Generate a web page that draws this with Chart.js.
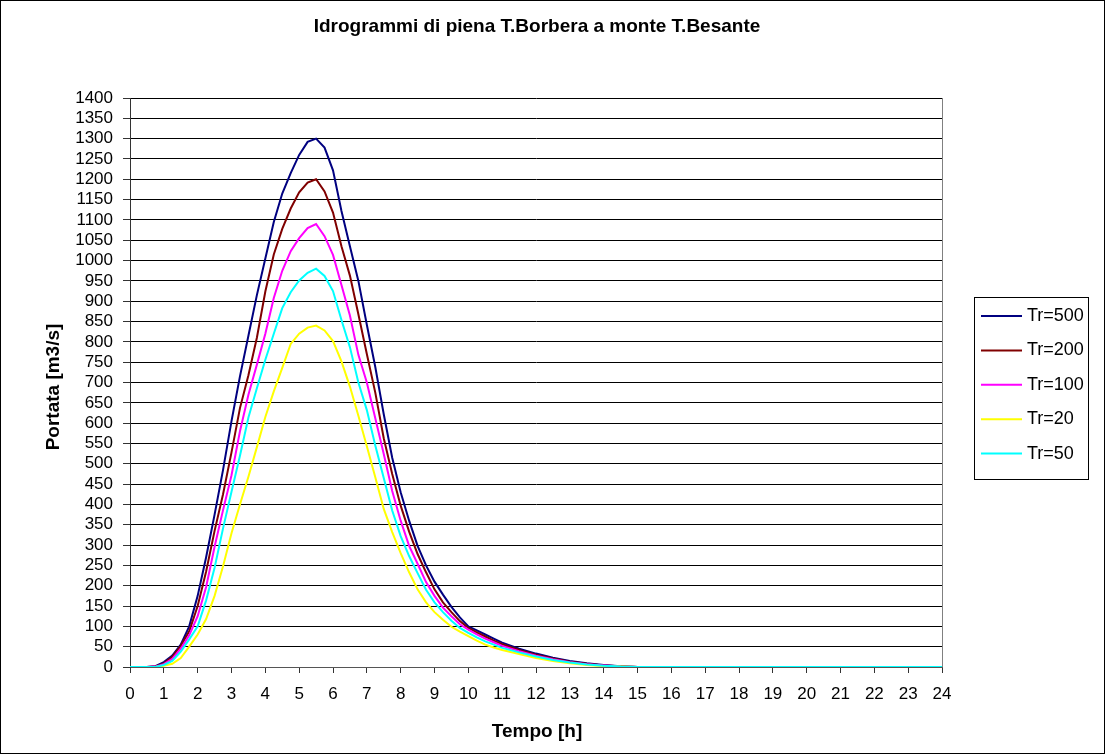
<!DOCTYPE html>
<html>
<head>
<meta charset="utf-8">
<script src="https://cdn.jsdelivr.net/npm/chart.js@4"></script>
<style>
  html, body { margin: 0; padding: 0; background: #fff; }
  #wrap { width: 1105px; height: 754px; }
</style>
</head>
<body>
<div id="wrap"><canvas id="idroChart" width="1105" height="754"></canvas></div>
<script>
// tempo [h]
const tempo = [0, 0.25, 0.5, 0.75, 1, 1.25, 1.5, 1.75, 2, 2.25, 2.5, 2.75, 3, 3.25, 3.5, 3.75,
  4, 4.25, 4.5, 4.75, 5, 5.25, 5.5, 5.75, 6, 6.25, 6.5, 6.75, 7, 7.25, 7.5, 7.75,
  8, 8.25, 8.5, 8.75, 9, 9.25, 9.5, 9.75, 10, 10.25, 10.5, 10.75, 11,
  11.5, 12, 12.5, 13, 13.5, 14, 14.5, 15,
  16, 17, 18, 19, 20, 21, 22, 23, 24];

// portate [m3/s]
const tr500 = [0, 0, 0, 2, 12, 28, 55, 100, 175, 270, 375, 485, 605, 715, 815, 915,
  1005, 1095, 1165, 1215, 1260, 1292, 1300, 1278, 1222, 1122, 1035, 950, 842, 738, 622, 515,
  430, 360, 298, 250, 210, 178, 148, 122, 100, 90, 80, 70, 60,
  45, 33, 23, 15, 9, 5, 2, 0,
  0, 0, 0, 0, 0, 0, 0, 0, 0];
const tr200 = [0, 0, 0, 1, 9, 25, 52, 88, 150, 235, 335, 425, 528, 637, 718, 810,
  924, 1015, 1078, 1128, 1168, 1192, 1200, 1170, 1118, 1035, 963, 868, 770, 675, 563, 475,
  397, 333, 278, 233, 191, 159, 135, 113, 96, 85, 75, 65, 56,
  42, 30, 21, 13, 8, 4, 2, 0,
  0, 0, 0, 0, 0, 0, 0, 0, 0];
const tr100 = [0, 0, 0, 1, 7, 20, 45, 78, 125, 197, 296, 386, 472, 580, 670, 744,
  820, 908, 975, 1023, 1055, 1080, 1090, 1060, 1014, 940, 865, 768, 700, 612, 524, 433,
  360, 298, 254, 209, 175, 146, 125, 105, 92, 80, 70, 61, 52,
  39, 28, 19, 12, 7, 4, 1, 0,
  0, 0, 0, 0, 0, 0, 0, 0, 0];
const tr20 = [0, 0, 0, 0, 3, 8, 22, 50, 80, 118, 175, 248, 329, 400, 468, 541,
  615, 678, 736, 795, 820, 835, 840, 828, 802, 752, 690, 618, 543, 467, 389, 332,
  280, 233, 191, 159, 135, 116, 99, 87, 76, 65, 55, 48, 42,
  32, 22, 15, 9, 5, 2, 1, 0,
  0, 0, 0, 0, 0, 0, 0, 0, 0];
const tr50 = [0, 0, 0, 0, 5, 15, 38, 68, 100, 164, 244, 341, 431, 520, 614, 686,
  756, 820, 883, 922, 951, 970, 980, 962, 925, 854, 787, 700, 632, 545, 465, 385,
  322, 273, 231, 190, 159, 135, 114, 96, 84, 73, 63, 55, 47,
  36, 26, 17, 11, 6, 3, 1, 0,
  0, 0, 0, 0, 0, 0, 0, 0, 0];

const etichette = ["Tr=500", "Tr=200", "Tr=100", "Tr=20", "Tr=50"];
const valori = [tr500, tr200, tr100, tr20, tr50];
const colori = ["#000080", "#800000", "#FF00FF", "#FFFF00", "#00FFFF"];

const FONT = '"Liberation Sans", Arial, sans-serif';
Chart.defaults.font.family = FONT;

const decorazioni = {
  id: "decorazioni",
  beforeDraw(chart) {
    const c = chart.ctx;
    c.save();
    c.fillStyle = "#fff";
    c.fillRect(0, 0, chart.width, chart.height);
    c.restore();
  },
  afterDraw(chart) {
    const c = chart.ctx;
    const a = chart.chartArea;
    c.save();
    // bordo destro area del grafico
    c.strokeStyle = "#808080";
    c.lineWidth = 1;
    c.beginPath();
    c.moveTo(Math.round(a.right) + 0.5, a.top);
    c.lineTo(Math.round(a.right) + 0.5, a.bottom);
    c.stroke();

    // titoli
    c.fillStyle = "#000";
    c.textAlign = "center";
    c.textBaseline = "middle";
    c.font = "bold 19px " + FONT;
    c.fillText("Idrogrammi di piena T.Borbera a monte T.Besante", 537, 27);
    c.fillText("Tempo [h]", 537, 732);
    c.save();
    c.translate(54, 387);
    c.rotate(-Math.PI / 2);
    c.fillText("Portata [m3/s]", 0, 0);
    c.restore();

    // legenda
    c.strokeStyle = "#000";
    c.lineWidth = 1;
    c.strokeRect(974.5, 297.5, 114, 182);
    c.font = "18px " + FONT;
    c.textAlign = "left";
    chart.data.datasets.forEach((ds, i) => {
      const y = 316 + i * 34.4;
      c.strokeStyle = ds.borderColor;
      c.lineWidth = 2;
      c.beginPath();
      c.moveTo(981, y);
      c.lineTo(1022, y);
      c.stroke();
      c.fillStyle = "#000";
      c.fillText(ds.label, 1027, y);
    });

    // cornice esterna
    c.strokeStyle = "#000";
    c.lineWidth = 1;
    c.strokeRect(0.5, 0.5, chart.width - 1, chart.height - 1);
    c.restore();
  }
};

const ctx = document.getElementById("idroChart").getContext("2d");
const idroChart = new Chart(ctx, {
  type: "line",
  data: {
    datasets: etichette.map((lab, i) => ({
      label: lab,
      data: tempo.map((t, k) => ({ x: t, y: valori[i][k] })),
      borderColor: colori[i],
      backgroundColor: colori[i],
      borderWidth: 2,
      pointRadius: 0,
      tension: 0,
      fill: false,
      order: etichette.length - 1 - i
    }))
  },
  options: {
    responsive: false,
    animation: false,
    devicePixelRatio: 1,
    layout: { padding: { top: 98, right: 163, bottom: 0, left: 0 } },
    plugins: {
      legend: { display: false },
      title: { display: false },
      tooltip: { enabled: false }
    },
    scales: {
      x: {
        type: "linear",
        min: 0,
        max: 24,
        ticks: { stepSize: 1, color: "#000", font: { size: 17 }, padding: 11, maxRotation: 0, autoSkip: false,
          callback: (v) => String(v) },
        grid: { drawOnChartArea: false, tickLength: 6, tickColor: "#333" },
        border: { color: "#555" },
        afterFit(scale) { scale.height = 87; }
      },
      y: {
        min: 0,
        max: 1400,
        ticks: { stepSize: 50, color: "#000", font: { size: 17 }, padding: 10, autoSkip: false,
          callback: (v) => String(v) },
        grid: { color: "#000", lineWidth: 1, tickLength: 7, tickColor: "#333" },
        border: { color: "#333" },
        afterFit(scale) { scale.width = 130; }
      }
    }
  },
  plugins: [decorazioni]
});
</script>
</body>
</html>
